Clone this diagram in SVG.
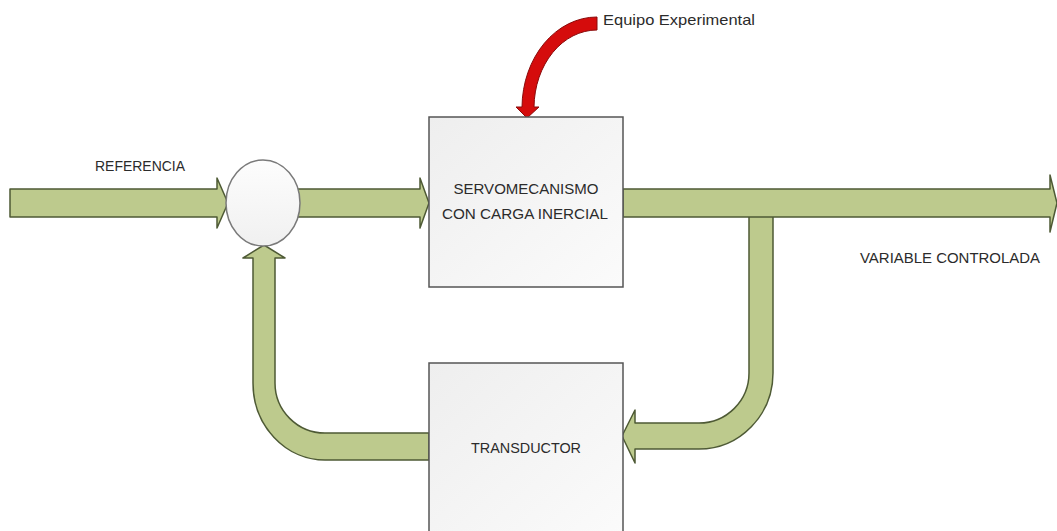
<svg xmlns="http://www.w3.org/2000/svg" width="1057" height="531" viewBox="0 0 1057 531">
  <defs>
    <linearGradient id="boxFill" x1="0" y1="0" x2="1" y2="1">
      <stop offset="0" stop-color="#eeeeee"/>
      <stop offset="1" stop-color="#fbfbfb"/>
    </linearGradient>
    <linearGradient id="sumFill" x1="0" y1="0" x2="0" y2="1">
      <stop offset="0" stop-color="#fdfdfd"/>
      <stop offset="1" stop-color="#f0f0f0"/>
    </linearGradient>
    <style>
      .flow { fill: #bdca8d; stroke: #4e5a35; stroke-width: 1.5; stroke-linejoin: round; }
      .block { fill: url(#boxFill); stroke: #555555; stroke-width: 1.5; }
      .sum { fill: url(#sumFill); stroke: #7a7a7a; stroke-width: 1.5; }
      .lbl { font-family: "Liberation Sans", Arial, sans-serif; font-size: 15px; fill: #2b2b2b; }
      .red { fill: #d50c0c; stroke: #8a0a0a; stroke-width: 1; stroke-linejoin: round; }
    </style>
  </defs>

  <rect width="1057" height="531" fill="#ffffff"/>

  <g id="connectors">
    <!-- reference input into the summing junction -->
    <path class="flow" d="M10,189 H217 V178 L228,203 L217,228 V217 H10 Z"/>
    <!-- error signal into the servomechanism -->
    <path class="flow" d="M298,189 H420 V178 L429,203 L420,228 V217 H298 Z"/>
    <!-- takeoff branch down to the transducer -->
    <path class="flow" d="M749,214 V373 A50,50 0 0 1 699,423 H635 V410 L622,436 L635,463 V449 H699 A74,76 0 0 0 773,373 V214 Z"/>
    <!-- controlled variable output -->
    <path class="flow" d="M623,189 H1050 V175 L1057,203 L1050,232 V217 H623 Z"/>
    <!-- feedback path back to the summing junction -->
    <path class="flow" d="M429,433 H325 A50,50 0 0 1 275,383 V258 H285 L264,245 L243,258 H253 V383 A72,77 0 0 0 325,460 H429 Z"/>
    <!-- experimental setup pointer -->
    <path class="red" d="M597,17 A75,91 0 0 0 522,107 L516,107 L527,118 L539,107 L534,107 A63,78 0 0 1 597,30 Z"/>
  </g>

  <g id="sum-junction">
    <ellipse class="sum" cx="263" cy="203" rx="37" ry="43"/>
  </g>

  <g id="servo">
    <rect class="block" x="429" y="117" width="194" height="170"/>
    <text class="lbl" x="526" y="194" text-anchor="middle" textLength="145" lengthAdjust="spacingAndGlyphs">SERVOMECANISMO</text>
    <text class="lbl" x="525" y="219" text-anchor="middle" textLength="166" lengthAdjust="spacingAndGlyphs">CON CARGA INERCIAL</text>
  </g>

  <g id="transducer">
    <rect class="block" x="429" y="363" width="194" height="180"/>
    <text class="lbl" x="526" y="453" text-anchor="middle" textLength="110" lengthAdjust="spacingAndGlyphs">TRANSDUCTOR</text>
  </g>

  <g id="labels">
    <text class="lbl" x="95" y="171" textLength="90" lengthAdjust="spacingAndGlyphs">REFERENCIA</text>
    <text class="lbl" x="860" y="263" textLength="180" lengthAdjust="spacingAndGlyphs">VARIABLE CONTROLADA</text>
    <text class="lbl" x="603" y="25" textLength="152" lengthAdjust="spacingAndGlyphs">Equipo Experimental</text>
  </g>
</svg>
